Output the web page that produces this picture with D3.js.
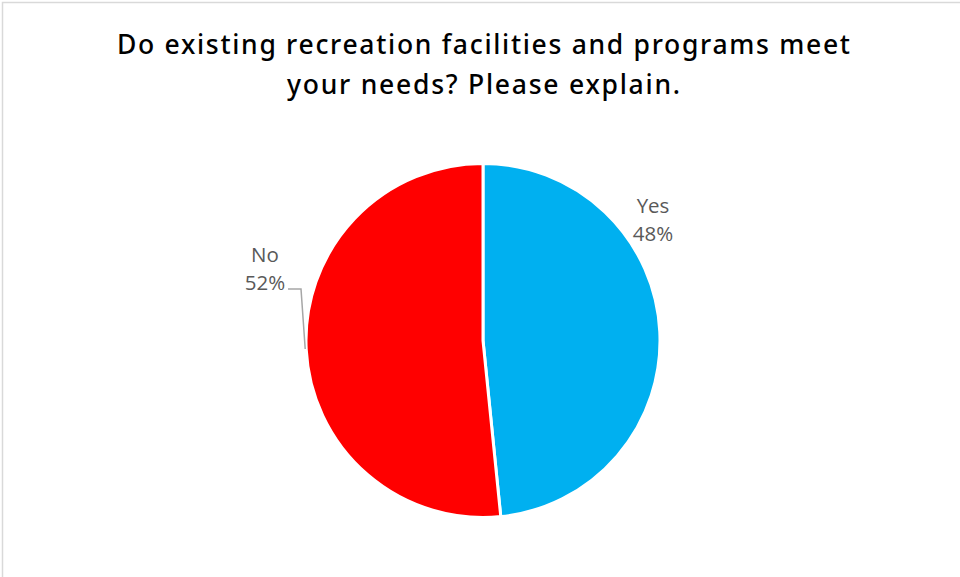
<!DOCTYPE html>
<html><head><meta charset="utf-8">
<script src="https://cdn.jsdelivr.net/npm/d3@7"></script>
<style>body{margin:0;background:#fff;}svg{display:block;}</style>
</head><body>
<svg id="c" width="960" height="577"></svg>
<script>
const titleLines = ["Do existing recreation facilities and programs meet", "your needs? Please explain."];
const categories = ["Yes", "No"];
const values = [48.4, 51.6];
const colors = ["#00B0F0", "#FF0000"];

const svg = d3.select("#c");
svg.append("rect").attr("x", 2.5).attr("y", 2.5).attr("width", 970).attr("height", 590)
  .attr("fill", "#fff").attr("stroke", "#d9d9d9").attr("stroke-width", 1.5);

const titleWidths = [733, 393];
const title = svg.append("text").attr("text-anchor", "middle")
  .attr("font-family", "'Noto Sans', sans-serif").attr("font-weight", 500)
  .attr("font-size", 26.5).attr("fill", "#000");
titleLines.forEach((t, i) => {
  title.append("tspan").attr("x", 483.5).attr("y", 54 + i * 40)
    .attr("textLength", titleWidths[i]).attr("lengthAdjust", "spacing").text(t);
});

const cx = 483, cy = 340.5, r = 177;
const data = categories.map((c, i) => ({cat: c, value: values[i], color: colors[i]}));
const pie = d3.pie().value(d => d.value).sort(null);
const arc = d3.arc().innerRadius(0).outerRadius(r);
const arcs = pie(data);
const total = d3.sum(values);

const g = svg.append("g").attr("transform", `translate(${cx},${cy})`);
g.selectAll("path").data(arcs).join("path")
  .attr("d", arc).attr("fill", d => d.data.color)
  .attr("stroke", "#fff").attr("stroke-width", 3).attr("stroke-linejoin", "round");

const lab = svg.append("g").attr("font-family", "'Open Sans', sans-serif")
  .attr("font-size", 20.5).attr("fill", "#595959").attr("text-anchor", "middle");
const fmt = d => Math.round(d.value / total * 100) + "%";

const yesA = arcs[0];
lab.append("text").attr("x", 653).attr("y", 213).text(yesA.data.cat);
lab.append("text").attr("x", 653).attr("y", 241).text(fmt(yesA));

const noA = arcs[1];
lab.append("text").attr("x", 265).attr("y", 262).text(noA.data.cat);
lab.append("text").attr("x", 265).attr("y", 290).text(fmt(noA));
const edgeY = 349;
const edgeX = cx - Math.sqrt(r * r - (edgeY - cy) * (edgeY - cy));
svg.append("path")
  .attr("d", `M288,289 L301,289 L${edgeX - 1},${edgeY}`)
  .attr("fill", "none").attr("stroke", "#a6a6a6").attr("stroke-width", 1.5);
</script>
</body></html>
